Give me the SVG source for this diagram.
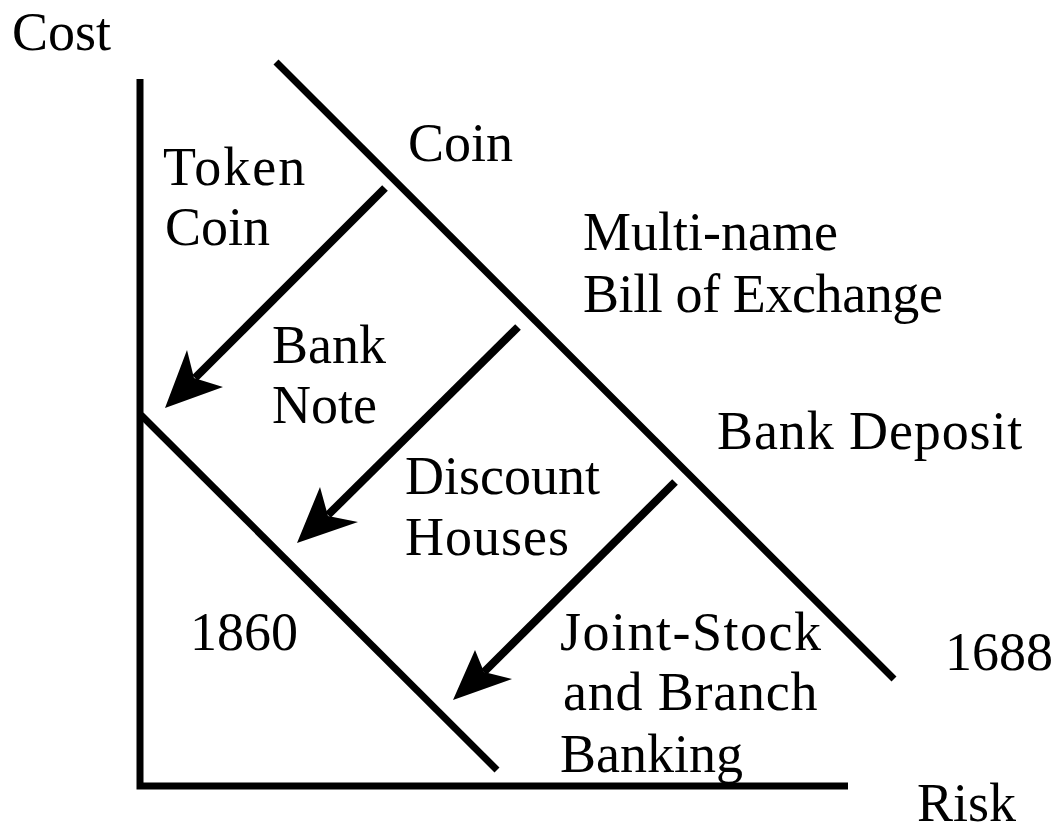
<svg xmlns="http://www.w3.org/2000/svg" width="1062" height="833" viewBox="0 0 1062 833">
<style>
text{font-family:"Liberation Serif","Times New Roman",serif;font-size:54px;fill:#000}
.ln{stroke:#000;stroke-width:7;fill:none}
.ar{stroke:#000;stroke-width:8;fill:none}
.hd{fill:#000;stroke:none}
</style>
<rect width="1062" height="833" fill="#fff"/>
<g id="axes">
<polyline class="ln" points="140,79 140,786 848,786"/>
</g>
<g id="connectors">
<line class="ln" x1="276" y1="62" x2="894" y2="679"/>
<line class="ln" x1="141" y1="415" x2="497" y2="770"/>
<line class="ar" x1="385" y1="188" x2="195" y2="378"/>
<polygon class="hd" points="165,408 187,350 194,378 223,387"/>
<line class="ar" x1="518" y1="327" x2="328" y2="515"/>
<polygon class="hd" points="297,543 320,487 328,516 358,522"/>
<line class="ar" x1="675" y1="482" x2="484" y2="672"/>
<polygon class="hd" points="453,700 475,650 484,672 512,679"/>
</g>
<g id="labels">
<text x="12" y="50">Cost</text>
<text x="408" y="161">Coin</text>
<text x="163" y="185" letter-spacing="2">Token</text>
<text x="165" y="245">Coin</text>
<text x="583" y="250">Multi-name</text>
<text x="583" y="312" letter-spacing="-0.4">Bill of Exchange</text>
<text x="272" y="363">Bank</text>
<text x="272" y="423">Note</text>
<text x="717" y="449" letter-spacing="0.9">Bank Deposit</text>
<text x="405" y="494">Discount</text>
<text x="405" y="555" letter-spacing="1">Houses</text>
<text x="190" y="650">1860</text>
<text x="560" y="650" letter-spacing="1.5">Joint-Stock</text>
<text x="563" y="710" letter-spacing="0.8">and Branch</text>
<text x="560" y="772">Banking</text>
<text x="945" y="670">1688</text>
<text x="917" y="821">Risk</text>
</g>
</svg>
